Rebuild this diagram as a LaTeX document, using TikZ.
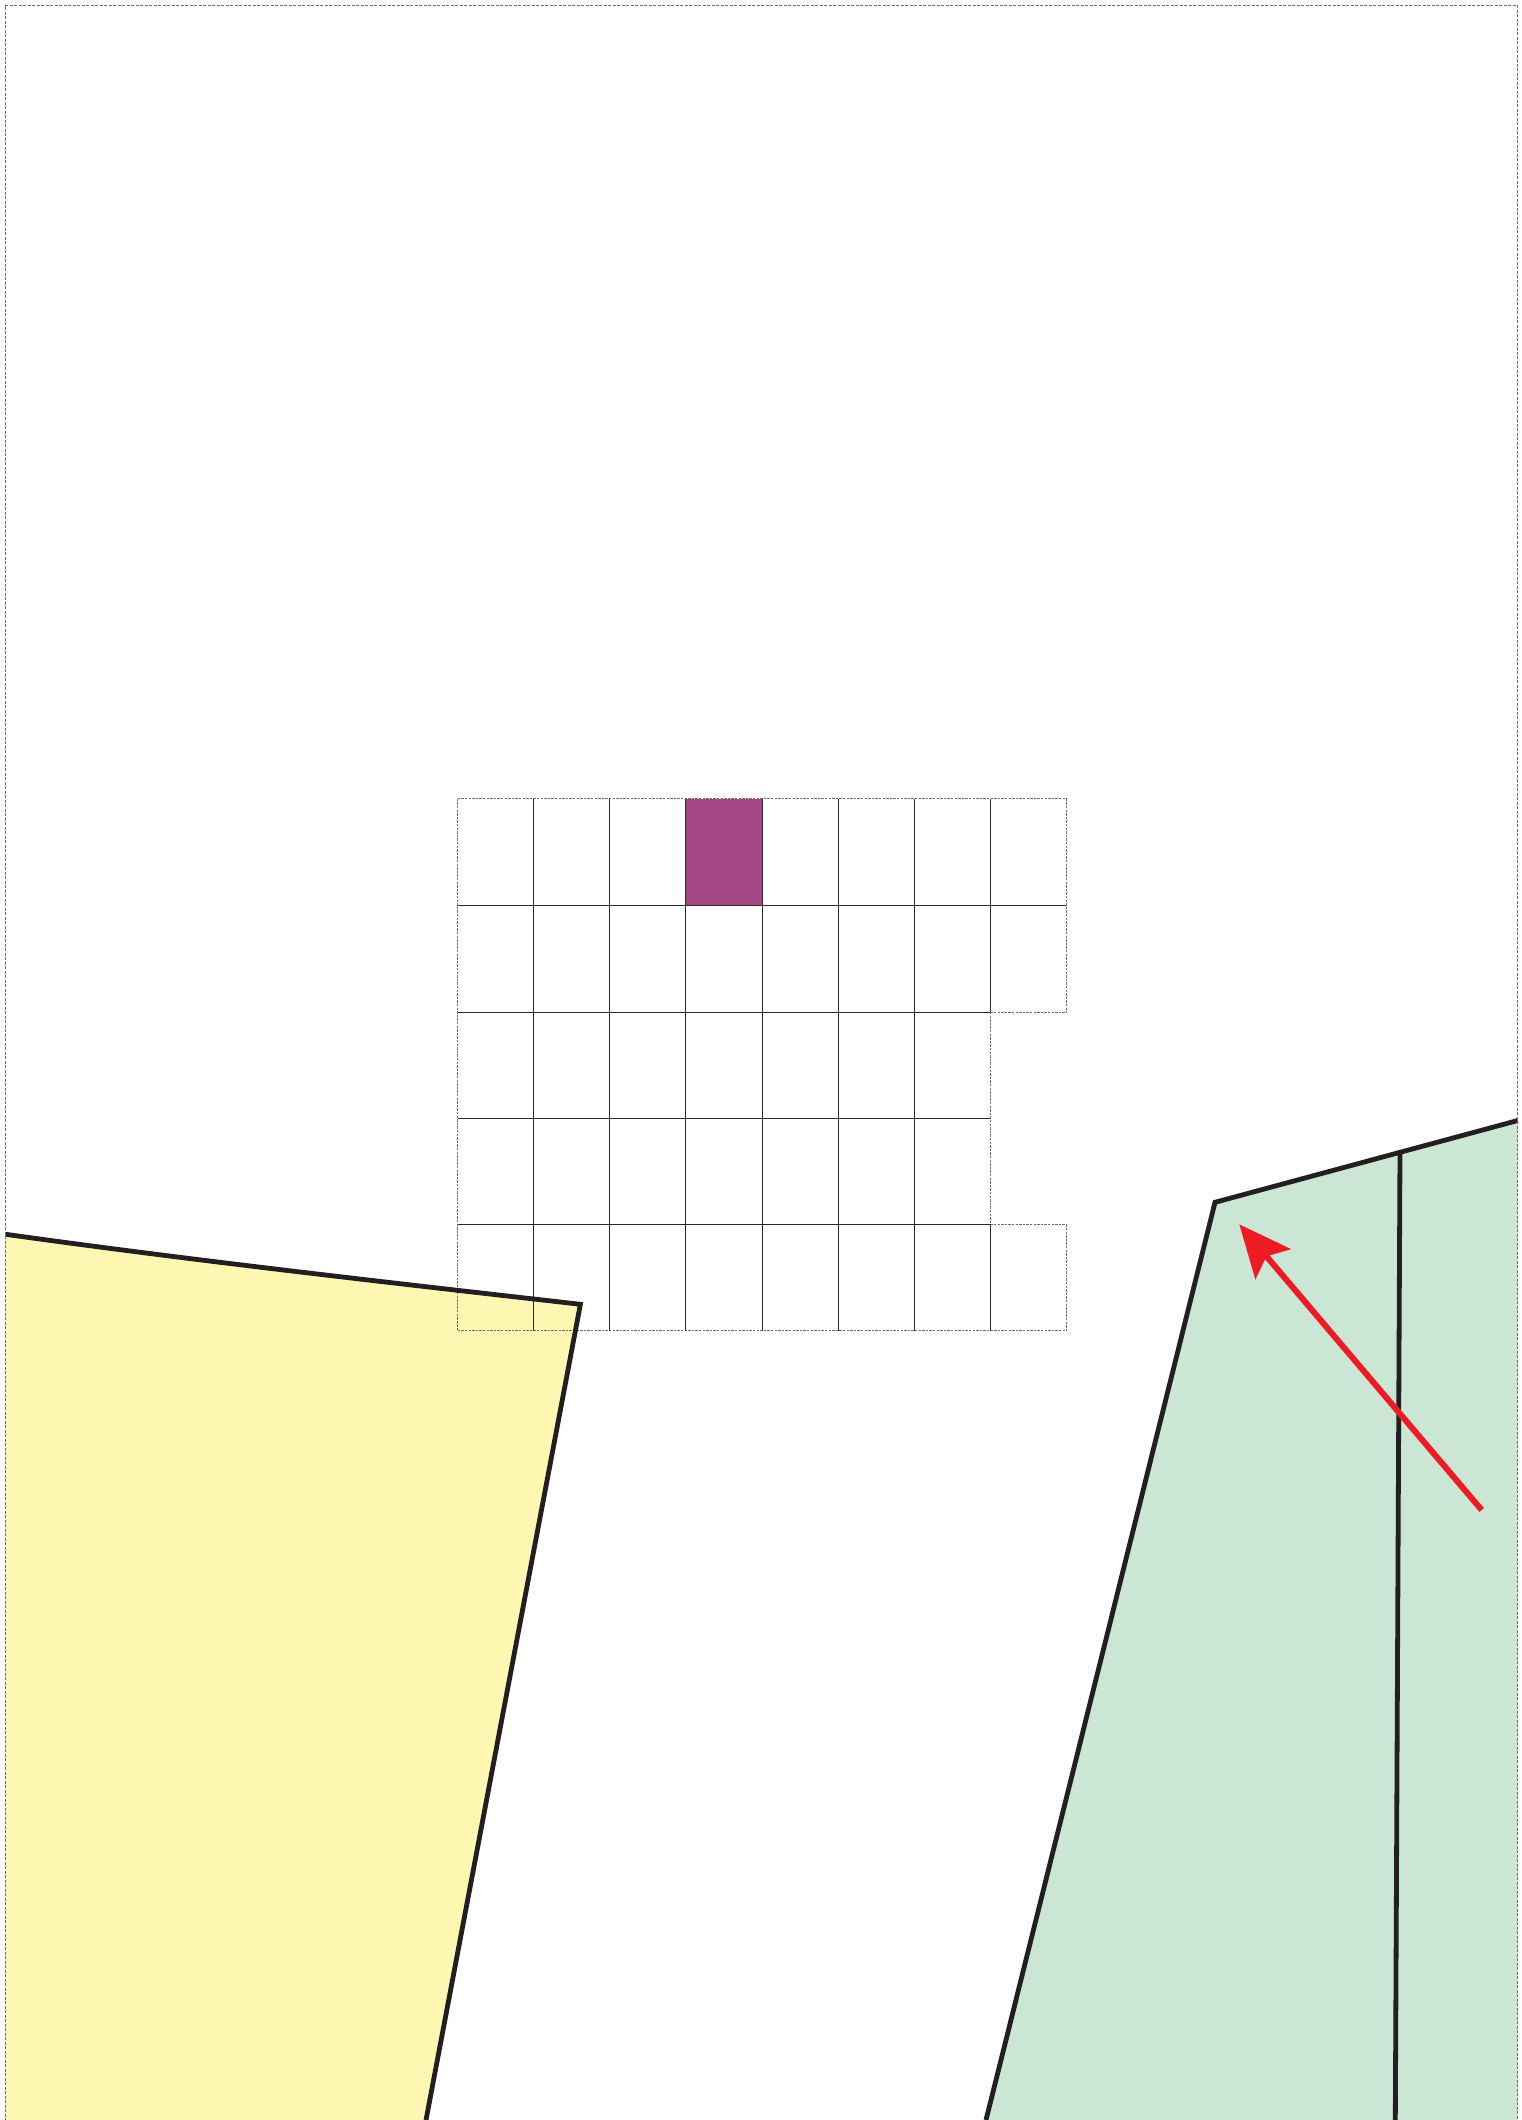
\documentclass[tikz,border=0pt]{standalone}
\usetikzlibrary{arrows.meta}
\definecolor{inkblack}{HTML}{231F20}
\definecolor{paleyellow}{HTML}{FEF7B2}
\definecolor{palegreen}{HTML}{CCE6D5}
\definecolor{cellpurple}{HTML}{A54684}
\definecolor{arrowred}{HTML}{ED1C24}
\definecolor{gridgray}{HTML}{6E6E6E}
\definecolor{griddark}{HTML}{2A2A2A}
\tikzset{
  framedash/.style={draw=gridgray, line width=0.5pt, dash pattern=on 1.5pt off 0.75pt},
  gridouter/.style={draw=gridgray, line width=0.45pt, dash pattern=on 1.2pt off 0.6pt},
  gridinner/.style={draw=griddark, line width=0.5pt},
  heavyline/.style={draw=inkblack, line width=2.4pt, line join=miter},
  redarrow/.style={draw=arrowred, line width=3pt, -{Stealth[length=26pt, width=23pt, inset=5pt]}}
}
\begin{document}
\begin{tikzpicture}[x=0.5pt, y=-0.5pt]
  \useasboundingbox (0,0) rectangle (1521,2120);
  \fill[white] (0,0) rectangle (1521,2120);

  % coordinates
  \coordinate (yA) at (5.7,1234.3);
  \coordinate (yB) at (580.4,1304.3);
  \coordinate (yC) at (426,2120);
  \coordinate (yD) at (5.7,2120);
  \coordinate (gA) at (1517.7,1120.5);
  \coordinate (gB) at (1215,1202.3);
  \coordinate (gC) at (986,2120);
  \coordinate (gD) at (1517.7,2120);
  \coordinate (vTop) at (1400,1150);
  \coordinate (vBot) at (1395.3,2120);
  \coordinate (aTail) at (1481.7,1510);
  \coordinate (aTip) at (1239.3,1224.3);

  % fills
  \fill[paleyellow] (yA) .. controls (197.2,1261) and (388.9,1282.5) .. (yB) -- (yC) -- (yD) -- cycle;
  \fill[palegreen] (gA) -- (gB) -- (gC) -- (gD) -- cycle;

  % purple cell
  \fill[cellpurple] ({457.7+76.08*3},798.8) rectangle ({457.7+76.08*4},905.2);

  % grid: outer dashed edges
  \draw[gridouter] (457.7,798.8) -- (1066.4,798.8);
  \draw[gridouter] (457.7,1330.8) -- (1066.4,1330.8);
  \draw[gridouter] (457.7,798.8) -- (457.7,1330.8);
  \draw[gridouter] (1066.4,798.8) -- (1066.4,1012);
  \draw[gridouter] (1066.4,1224.4) -- (1066.4,1330.8);
  \draw[gridouter] (990.3,1012) -- (1066.4,1012);
  \draw[gridouter] (990.3,1224.4) -- (1066.4,1224.4);
  \draw[gridouter] (990.3,1012) -- (990.3,1224.4);

  % grid: inner solid edges
  \draw[gridinner] (457.7,905.2) -- (1066.4,905.2);
  \draw[gridinner] (457.7,1012) -- (990.3,1012);
  \draw[gridinner] (457.7,1118.2) -- (990.3,1118.2);
  \draw[gridinner] (457.7,1224.4) -- (990.3,1224.4);
  \foreach \i in {1,...,6} {
    \draw[gridinner] ({457.7+76.08*\i},798.8) -- ({457.7+76.08*\i},1330.8);
  }
  \draw[gridinner] (990.3,798.8) -- (990.3,1012);
  \draw[gridinner] (990.3,1224.4) -- (990.3,1330.8);

  % heavy outlines
  \draw[heavyline] (yA) .. controls (197.2,1261) and (388.9,1282.5) .. (yB) -- (yC);
  \draw[heavyline] (gA) -- (gB) -- (gC);
  \draw[heavyline] (vTop) -- (vBot);

  % red arrow
  \draw[redarrow] (aTail) -- (aTip);

  % frame
  \draw[framedash] (5.7,2121) -- (5.7,5.7) -- (1517.7,5.7) -- (1517.7,2121);
\end{tikzpicture}
\end{document}
